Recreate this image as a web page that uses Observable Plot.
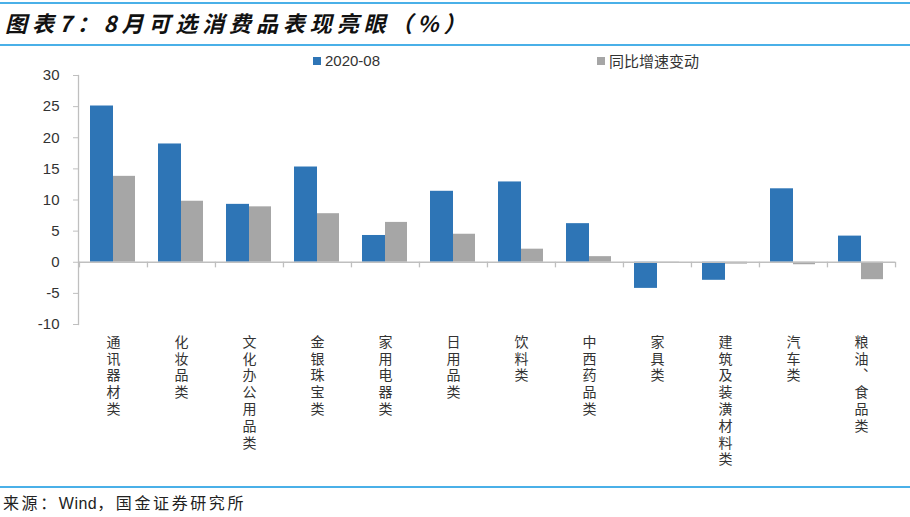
<!DOCTYPE html>
<html><head><meta charset="utf-8">
<script src="https://cdn.jsdelivr.net/npm/d3@7"></script>
<script src="https://cdn.jsdelivr.net/npm/@observablehq/plot@0.6"></script>
<style>
html,body{margin:0;padding:0;background:#fff;}
body{width:910px;height:517px;position:relative;overflow:hidden;font-family:"Liberation Sans",Arial,sans-serif;}
.line{position:absolute;left:0;width:910px;height:2px;background:#4AB0E8;}
#title{position:absolute;left:5px;top:6px;font-family:"Noto Sans CJK SC",sans-serif;font-weight:bold;font-style:italic;font-size:22px;letter-spacing:4.9px;color:#111;white-space:nowrap;}
#legend{position:absolute;top:52px;left:0;font-size:15px;color:#333;}
.lg{position:absolute;white-space:nowrap;display:flex;align-items:center;height:18px;line-height:18px;}
.sw{display:inline-block;width:8px;height:8px;margin-right:4px;}
#chart{position:absolute;left:0;top:50px;}
#source{position:absolute;left:3px;top:492px;font-size:16px;line-height:20px;letter-spacing:2.6px;color:#222;font-family:"Noto Sans CJK SC","Liberation Sans",sans-serif;white-space:nowrap;}
#source span{font-family:"Liberation Sans",Arial,sans-serif;letter-spacing:0.5px;}
</style></head>
<body>
<div class="line" style="top:2px"></div>
<div id="title">图表7：8月可选消费品表现亮眼（%）</div>
<div class="line" style="top:44px"></div>
<div id="chart"></div>
<div id="legend"></div>
<div class="line" style="top:486px"></div>
<div id="source">来源：<span>Wind</span>，国金证券研究所</div>
<script>
const categories = ["通讯器材类","化妆品类","文化办公用品类","金银珠宝类","家用电器类","日用品类","饮料类","中西药品类","家具类","建筑及装潢材料类","汽车类","粮油、食品类"];
const values2020 = [25.1, 19.0, 9.3, 15.3, 4.3, 11.4, 12.9, 6.2, -4.2, -2.9, 11.8, 4.2];
const yoyChange = [13.8, 9.8, 8.9, 7.8, 6.4, 4.5, 2.1, 0.9, -0.2, -0.3, -0.4, -2.8];
const seriesNames = ["2020-08","同比增速变动"];
const seriesColors = ["#2E75B6","#A6A6A6"];
const yTicks = [-10,-5,0,5,10,15,20,25,30];

const blue = categories.map((c,i)=>({category:c, value:values2020[i]}));
const gray = categories.map((c,i)=>({category:c, value:yoyChange[i]}));

const plot = Plot.plot({
  width: 910,
  height: 430,
  marginLeft: 78,
  marginRight: 15,
  marginTop: 25,
  marginBottom: 156,
  x: {domain: categories, paddingInner: 0, paddingOuter: 0, axis: null, label: null},
  y: {domain: [-10, 30], axis: null, label: null},
  style: {fontFamily: "Liberation Sans, Arial, sans-serif", color: "#404040"},
  marks: [
    Plot.barY(blue, {x: "category", y: "value", fill: seriesColors[0], insetLeft: 11, insetRight: 34}),
    Plot.barY(gray, {x: "category", y: "value", fill: seriesColors[1], insetLeft: 34, insetRight: 12}),
    Plot.ruleY([0], {stroke: "#BFBFBF", strokeWidth: 1.3}),
    Plot.ruleX(categories, {x: d => d, dx: -34.04, y1: 0, y2: -0.9, stroke: "#BFBFBF", strokeWidth: 1.3}),
    Plot.ruleX([categories[categories.length-1]], {x: d => d, dx: 34.04, y1: 0, y2: -0.9, stroke: "#BFBFBF", strokeWidth: 1.3}),
    Plot.frame({anchor: "left", stroke: "#BFBFBF", strokeWidth: 1.3}),
    Plot.axisY({ticks: yTicks, tickSize: 5, tickPadding: 14, fontSize: 15, stroke: "#BFBFBF", fill: "#333", strokeOpacity: 1, label: null, tickFormat: d => String(d)}),
    Plot.axisX({anchor: "bottom", tickSize: 0, tickPadding: 0, fontSize: 14, lineAnchor: "top", fill: "#333", label: null, tickFormat: d => d, fontFamily: "Noto Sans CJK SC, sans-serif"})
  ]
});
document.getElementById("chart").appendChild(plot);

// vertical (upright, top-to-bottom) category labels
plot.querySelectorAll('g[aria-label="x-axis tick label"] text').forEach(t => {
  t.removeAttribute("dy");
  t.querySelectorAll("tspan").forEach(s => s.removeAttribute("dy"));
  t.style.writingMode = "vertical-rl";
  t.style.textOrientation = "upright";
  t.style.textAnchor = "start";
  t.style.letterSpacing = "2.8px";
  t.style.dominantBaseline = "central";
});

const legend = document.getElementById("legend");
const lx = [313, 597];
seriesNames.forEach((n,i)=>{
  const d = document.createElement("div");
  d.className = "lg";
  d.style.left = lx[i] + "px";
  d.style.top = "0px";
  d.style.fontFamily = i===1 ? "Noto Sans CJK SC, sans-serif" : "Liberation Sans, Arial, sans-serif";
  d.innerHTML = `<span class="sw" style="background:${seriesColors[i]}"></span>${n}`;
  legend.appendChild(d);
});
</script>
</body></html>
